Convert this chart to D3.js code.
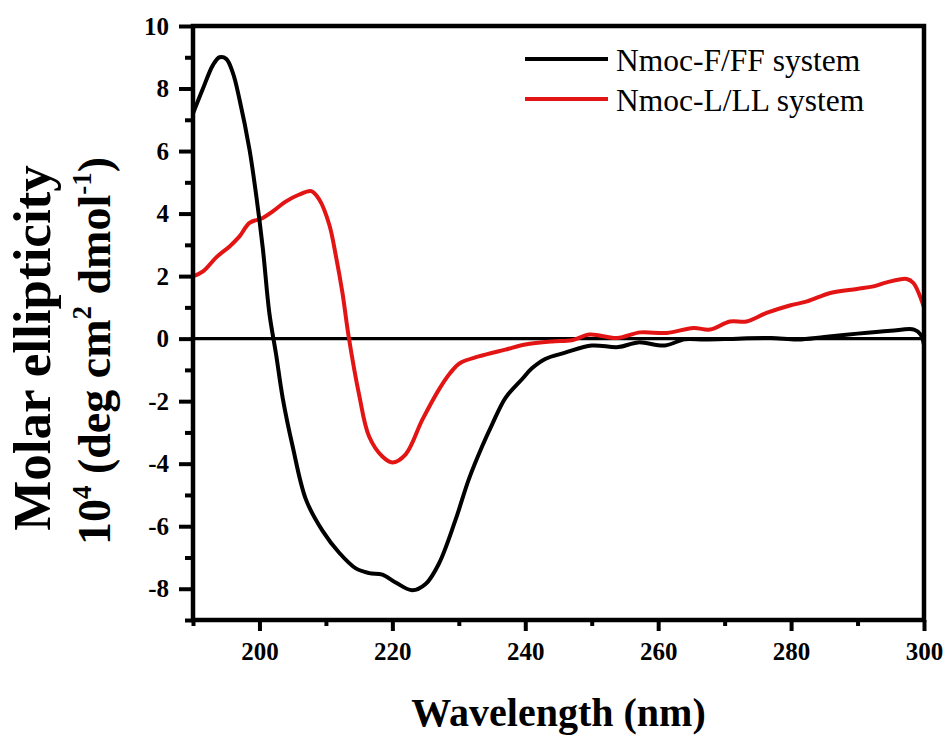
<!DOCTYPE html>
<html>
<head>
<meta charset="utf-8">
<script src="https://cdnjs.cloudflare.com/ajax/libs/d3/7.8.5/d3.min.js"></script>
<style>
  body { margin: 0; background: #fff; }
  svg text { font-family: "Liberation Serif", "Times New Roman", serif; }
</style>
</head>
<body>
<div id="cd-chart"></div>
<script>
/**
 * CD spectra data
 *  */
var wavelengthFF = [190, 191.5, 193, 194, 195, 196, 197, 198.5, 199.5, 200.5, 201.5, 202.5, 203.5, 205, 207,
    209.5, 212, 214.5, 216.5, 218.5, 220.5, 223, 225, 227, 229.5, 231.5, 233.5, 235, 237, 239.5, 241, 243,
    246, 250, 254, 257, 261, 264, 267, 272, 277, 281, 285, 290, 295, 298.5, 299.5, 300];
var ellipticityFF = [7.2, 8.0, 8.75, 9.0, 8.95, 8.5, 7.65, 6.05, 4.6, 2.9, 0.8, -0.5, -1.9, -3.45, -5.15,
    -6.15, -6.85, -7.35, -7.5, -7.55, -7.8, -8.05, -7.85, -7.2, -5.8, -4.5, -3.45, -2.75, -1.9, -1.3, -0.95, -0.65,
    -0.45, -0.22, -0.27, -0.12, -0.22, -0.02, -0.03, 0, 0.02, -0.03, 0.05, 0.16, 0.25, 0.29, 0.13, -0.2];

var wavelengthLL = [190, 191.5, 193.5, 195.5, 197, 198.5, 200.5, 202, 204, 206, 207.8, 209, 210.5, 211.5,
    212.5, 213.4, 215, 216.5, 218.5, 220, 222, 224.5, 227, 228.7, 230.2, 233, 237, 240, 244, 247, 249.7, 253.8,
    257.3, 261.3, 265.3, 267.8, 270.8, 273.3, 276.3, 279.8, 282.4, 285.9, 289.9, 292.4, 294.4, 297.4, 298.4, 300];
var ellipticityLL = [1.99, 2.15, 2.6, 2.95, 3.27, 3.7, 3.86, 4.07, 4.39, 4.61, 4.72, 4.45, 3.65, 2.65,
    1.45, 0.1, -1.8, -3.13, -3.77, -3.96, -3.7, -2.6, -1.63, -1.1, -0.78, -0.57, -0.35, -0.19, -0.09, -0.05, 0.13, 0.02,
    0.2, 0.18, 0.34, 0.29, 0.55, 0.55, 0.82, 1.06, 1.19, 1.46, 1.59, 1.67, 1.8, 1.91, 1.78, 1.0];

var seriesNames = ["Nmoc-F/FF system", "Nmoc-L/LL system"];
var seriesColors = ["#000000", "#e31414"];

var xTicks = [200, 220, 240, 260, 280, 300];
var xMinorTicks = [190, 210, 230, 250, 270, 290];
var yTicks = [-8, -6, -4, -2, 0, 2, 4, 6, 8, 10];
var yMinorTicks = [-9, -7, -5, -3, -1, 1, 3, 5, 7, 9];

drawCDChart();

function drawCDChart() {
    var width = 950,
        height = 737;
    var margin = {
        top: 26,
        right: 26,
        bottom: 117,
        left: 193
    };
    var plotW = width - margin.left - margin.right;
    var plotH = height - margin.top - margin.bottom;

    var svg = d3.select("#cd-chart").append("svg")
        .attr("width", width)
        .attr("height", height);

    var g = svg.append("g")
        .attr("transform", "translate(" + margin.left + "," + margin.top + ")");

    var x = d3.scaleLinear().domain([190, 300]).range([0, plotW]);
    var y = d3.scaleLinear().domain([-9, 10]).range([plotH, 0]);

    var seriesData = [
        wavelengthFF.map(function (w, i) { return { x: w, y: ellipticityFF[i] }; }),
        wavelengthLL.map(function (w, i) { return { x: w, y: ellipticityLL[i] }; })
    ];

    // zero line
    g.append("line")
        .attr("x1", x(190)).attr("x2", x(300))
        .attr("y1", y(0)).attr("y2", y(0))
        .attr("stroke", "#000")
        .attr("stroke-width", 3.2);

    var line = d3.line()
        .x(function (d) { return x(d.x); })
        .y(function (d) { return y(d.y); })
        .curve(d3.curveCatmullRom.alpha(0.5));

    // red drawn first, black on top
    [1, 0].forEach(function (k) {
        g.append("path")
            .datum(seriesData[k])
            .attr("fill", "none")
            .attr("stroke", seriesColors[k])
            .attr("stroke-width", 4)
            .attr("stroke-linejoin", "round")
            .attr("d", line);
    });

    var fmt = function (d) { return String(d); };

    // axes
    var xAxis = g.append("g")
        .attr("transform", "translate(0," + plotH + ")")
        .call(d3.axisBottom(x).tickValues(xTicks).tickSize(11).tickPadding(11).tickFormat(fmt));
    var xMinor = g.append("g")
        .attr("transform", "translate(0," + plotH + ")")
        .call(d3.axisBottom(x).tickValues(xMinorTicks).tickSize(6).tickFormat(""));
    var yAxis = g.append("g")
        .call(d3.axisLeft(y).tickValues(yTicks).tickSize(14).tickPadding(10).tickFormat(fmt));
    var yMinor = g.append("g")
        .call(d3.axisLeft(y).tickValues(yMinorTicks).tickSize(8).tickFormat(""));

    [xAxis, xMinor, yAxis, yMinor].forEach(function (a) {
        a.select(".domain").remove();
        a.selectAll(".tick line").attr("stroke", "#000").attr("stroke-width", 4);
        a.selectAll(".tick text")
            .attr("fill", "#000")
            .attr("font-size", "25px")
            .attr("font-weight", "bold")
            .style("font-family", "'Liberation Serif', 'Times New Roman', serif");
    });

    // frame
    g.append("rect")
        .attr("x", 0).attr("y", 0)
        .attr("width", plotW).attr("height", plotH)
        .attr("fill", "none")
        .attr("stroke", "#000")
        .attr("stroke-width", 4.5);

    // legend
    var legend = g.append("g")
        .attr("transform", "translate(332,0)");
    seriesNames.forEach(function (name, i) {
        var ly = 33 + i * 40;
        legend.append("line")
            .attr("x1", 0).attr("x2", 83)
            .attr("y1", ly).attr("y2", ly)
            .attr("stroke", seriesColors[i])
            .attr("stroke-width", 4);
        legend.append("text")
            .attr("x", 91)
            .attr("y", ly + 12)
            .attr("font-size", "31.5px")
            .attr("fill", "#000")
            .text(name);
    });

    // x title
    svg.append("text")
        .attr("x", margin.left + plotW / 2)
        .attr("y", 726)
        .attr("text-anchor", "middle")
        .attr("font-size", "40px")
        .attr("font-weight", "bold")
        .text("Wavelength (nm)");

    // y title, two lines
    svg.append("text")
        .attr("transform", "translate(50,348) rotate(-90)")
        .attr("text-anchor", "middle")
        .attr("font-size", "53px")
        .attr("font-weight", "bold")
        .text("Molar ellipticity");

    var yTitle2 = svg.append("text")
        .attr("transform", "translate(110,351) rotate(-90)")
        .attr("text-anchor", "middle")
        .attr("font-size", "46px")
        .attr("font-weight", "bold");
    var parts = [
        ["10", false], ["4", true], [" (deg cm", false], ["2", true], [" dmol", false], ["-1", true], [")", false]
    ];
    var prevSup = false;
    parts.forEach(function (p) {
        var t = yTitle2.append("tspan").text(p[0]);
        if (p[1]) {
            t.attr("font-size", "27px").attr("dy", -19);
        } else if (prevSup) {
            t.attr("dy", 19);
        }
        prevSup = p[1];
    });
}
</script>
</body>
</html>
